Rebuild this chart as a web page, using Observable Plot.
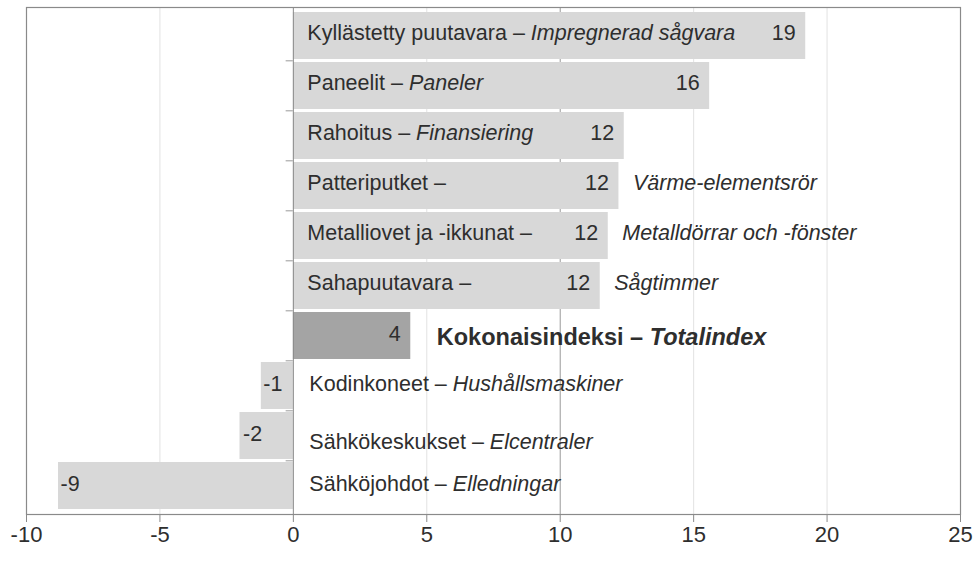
<!DOCTYPE html>
<html>
<head>
<meta charset="utf-8">
<script src="https://cdn.jsdelivr.net/npm/d3@7"></script>
<script src="https://cdn.jsdelivr.net/npm/@observablehq/plot@0.6"></script>
<style>
  html, body { margin: 0; padding: 0; background: #fff; }
  #chart svg { display: block; }
</style>
</head>
<body>
<div id="chart"></div>
<script>
// ---- data ----
const finnish = ["Kyllästetty puutavara", "Paneelit", "Rahoitus", "Patteriputket", "Metalliovet ja -ikkunat", "Sahapuutavara", "Kokonaisindeksi", "Kodinkoneet", "Sähkökeskukset", "Sähköjohdot"];
const swedish = ["Impregnerad sågvara", "Paneler", "Finansiering", "Värme-elementsrör", "Metalldörrar och -fönster", "Sågtimmer", "Totalindex", "Hushållsmaskiner", "Elcentraler", "Elledningar"];
const values = [19.2, 15.6, 12.4, 12.2, 11.8, 11.5, 4.4, -1.2, -2.0, -8.8];
const valueLabels = ["19", "16", "12", "12", "12", "12", "4", "-1", "-2", "-9"];
const xTicks = [-10, -5, 0, 5, 10, 15, 20, 25];

// ---- table ----
const TOTAL = 6, SHIFTED = 8;
const SPLIT = new Set([3, 4, 5]);
const rows = finnish.map((fi, i) => ({i, fi, sv: swedish[i], value: values[i], label: valueLabels[i]}));
const inlinePos = rows.filter(d => d.value >= 0 && !SPLIT.has(d.i) && d.i !== TOTAL);
const inlineNeg = rows.filter(d => d.value < 0 && d.i !== SHIFTED);
const shifted = rows.filter(d => d.i === SHIFTED);
const splitRows = rows.filter(d => SPLIT.has(d.i));
const totalRow = rows.filter(d => d.i === TOTAL);
const pos = rows.filter(d => d.value >= 0 && d.i !== TOTAL);
const neg = rows.filter(d => d.value < 0 && d.i !== SHIFTED);

const H = 561, MT = 7, MB = 47, PAD = 0.07;
const step = (H - MT - MB) / (finnish.length - PAD + 2 * PAD);
const FS = 21.5;
const TXT = "#2e2e2e";

const chart = Plot.plot({
  width: 976,
  height: H,
  marginLeft: 26,
  marginRight: 16,
  marginTop: MT,
  marginBottom: MB,
  style: {fontFamily: "'Liberation Sans', Arial, sans-serif", fontSize: FS + "px", color: TXT, background: "#fff"},
  x: {domain: [-10, 25], ticks: xTicks, label: null},
  y: {domain: finnish, padding: PAD, axis: null},
  marks: [
    Plot.ruleX(xTicks.filter(t => t !== 0 && t !== 10 && t !== -10 && t !== 25), {stroke: "#e2e2e2", strokeWidth: 1}),
    Plot.ruleX([10], {stroke: "#9a9a9a", strokeWidth: 1}),
    Plot.barX(rows, {x: "value", y: "fi", fill: d => d.i === TOTAL ? "#a4a4a4" : "#d8d8d8"}),
    Plot.ruleX([0], {stroke: "#8a8a8a", strokeWidth: 1}),
    Plot.ruleY(finnish.slice(1), {y: d => d, x1: -0.27, x2: 0, dy: -step / 2, stroke: "#9a9a9a"}),
    Plot.frame({stroke: "#8a8a8a", strokeWidth: 1.2}),
    Plot.axisX({ticks: xTicks, tickSize: 8, tickPadding: 4, stroke: "#8a8a8a", fill: TXT, fontSize: 22, label: null, tickFormat: d => String(d)}),
    // inline category labels
    Plot.text(inlinePos, {x: 0, y: "fi", text: d => d.fi + " – " + d.sv, textAnchor: "start", dx: 14, dy: -3, fill: TXT}),
    Plot.text(inlineNeg, {x: 0, y: "fi", text: d => d.fi + " – " + d.sv, textAnchor: "start", dx: 16, dy: -2, fill: TXT}),
    Plot.text(shifted, {x: 0, y: "fi", text: d => d.fi + " – " + d.sv, textAnchor: "start", dx: 16, dy: 6, fill: TXT}),
    // split category labels
    Plot.text(splitRows, {x: 0, y: "fi", text: d => d.fi + " –", textAnchor: "start", dx: 14, dy: -3, fill: TXT}),
    Plot.text(splitRows, {x: "value", y: "fi", text: "sv", textAnchor: "start", dx: 14, dy: -3, fill: TXT, fontStyle: "italic"}),
    // total
    Plot.text(totalRow, {x: "value", y: "fi", text: d => d.fi + " – " + d.sv, textAnchor: "start", dx: 26, dy: 1, fill: TXT, fontWeight: "bold", fontSize: 23.5}),
    Plot.text(totalRow, {x: "value", y: "fi", text: "label", textAnchor: "end", dx: -10, dy: -2, fill: TXT}),
    // value labels
    Plot.text(pos, {x: "value", y: "fi", text: "label", textAnchor: "end", dx: -10, dy: -3, fill: TXT}),
    Plot.text(neg, {x: "value", y: "fi", text: "label", textAnchor: "start", dx: 2, dy: -2, fill: TXT}),
    Plot.text(shifted, {x: "value", y: "fi", text: "label", textAnchor: "start", dx: 3, dy: -2, fill: TXT})
  ]
});

// italicise the Swedish part after the dash
chart.querySelectorAll("text").forEach(t => {
  if (t.querySelector("tspan")) return;
  const s = t.textContent;
  const k = s.indexOf(" – ");
  if (k < 0) return;
  const ns = "http://www.w3.org/2000/svg";
  t.textContent = "";
  const a = document.createElementNS(ns, "tspan");
  a.textContent = s.slice(0, k + 3);
  const b = document.createElementNS(ns, "tspan");
  b.textContent = s.slice(k + 3);
  b.setAttribute("font-style", "italic");
  t.append(a, b);
});

document.getElementById("chart").append(chart);
</script>
</body>
</html>
